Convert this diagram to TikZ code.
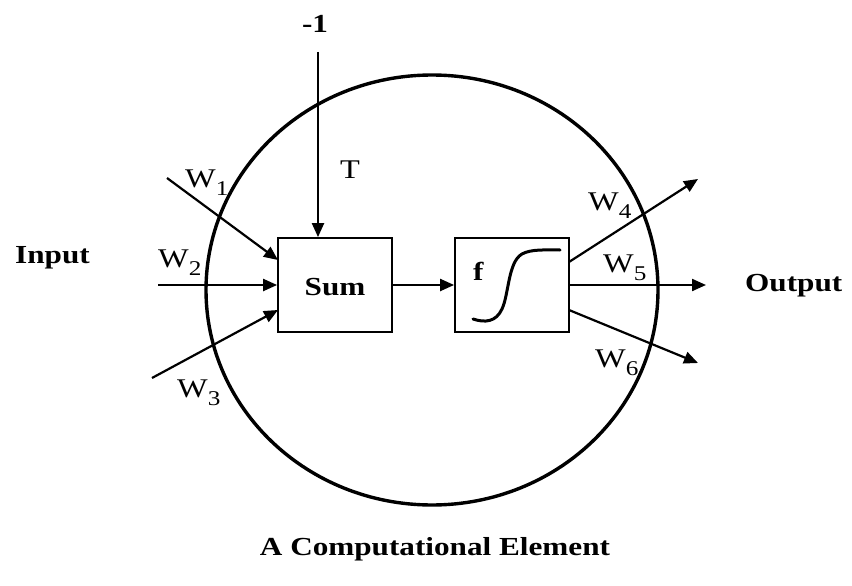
\documentclass[tikz,border=0pt]{standalone}
\usepackage{fontspec}
\setmainfont{Liberation Serif}[FakeStretch=1.2]
\usetikzlibrary{arrows.meta}
\newcommand\Wlab[1]{W\raisebox{-0.32em}{\fontsize{21}{24}\selectfont #1}}
\begin{document}
\begin{tikzpicture}[x=1pt,y=-1pt,
  txt/.style={inner sep=0pt,font=\fontsize{27}{30}\selectfont},
  btxt/.style={inner sep=0pt,font=\fontsize{26}{30}\selectfont\bfseries},
  blockbox/.style={draw,line width=1.8pt,minimum width=114pt,minimum height=94pt,inner sep=0pt},
  conn/.style={line width=2.2pt,-{Triangle[length=14pt,width=12pt]}},
  plain/.style={line width=2.2pt}]
\useasboundingbox (0,0) rectangle (852,586);
% big circle
\draw[line width=3.4pt] (432,290) ellipse [x radius=226pt, y radius=215pt];
% blocks
\node[blockbox] (sum) at (335,285) {};
\node[btxt,anchor=base] (sumlab) at (335,295) {Sum};
\node[blockbox] (fbox) at (512,285) {};
\node[btxt,anchor=base west] (flab) at (473,280) {f};
% sigmoid
\draw[line width=3pt,line cap=round]
  (473,319) .. controls (485,323) and (496,322) .. (502,309)
  .. controls (509,294) and (508,262) .. (522,254)
  .. controls (531,249) and (545,250) .. (560,250);
% bias input
\coordinate (m1) at (318,52);
\draw[conn] (m1) -- (m1 |- sum.north);
\node[btxt,anchor=base] (minus) at (315,33) {-1};
\node[txt,anchor=base west] (tlab) at (340,178) {T};
% inputs
\coordinate (i1) at (167,178);
\coordinate (i2) at (158,285);
\coordinate (i3) at (152,378);
\coordinate (s1) at (278,260);
\coordinate (s3) at (278,310);
\draw[conn] (i1) -- (s1);
\draw[conn] (i2) -- (sum.west);
\draw[conn] (i3) -- (s3);
\node[txt,anchor=base west] (w1) at (185,187) {\Wlab{1}};
\node[txt,anchor=base west] (w2) at (158,267) {\Wlab{2}};
\node[txt,anchor=base west] (w3) at (177,397) {\Wlab{3}};
% sum -> f
\draw[conn] (sum.east) -- (fbox.west);
% outputs
\coordinate (f4) at (569,262);
\coordinate (f6) at (569,310);
\coordinate (o4) at (698,179);
\coordinate (o5) at (706,285);
\coordinate (o6) at (698,363);
\draw[conn] (f4) -- (o4);
\draw[conn] (fbox.east) -- (o5);
\draw[conn] (f6) -- (o6);
\node[txt,anchor=base west] (w4) at (588,210) {\Wlab{4}};
\node[txt,anchor=base west] (w5) at (603,272) {\Wlab{5}};
\node[txt,anchor=base west] (w6) at (595,367) {\Wlab{6}};
% side labels
\node[btxt,anchor=base west] (inlab) at (15,263) {Input};
\node[btxt,anchor=base west] (outlab) at (745,291) {Output};
\node[btxt,anchor=base] (title) at (435,555) {A Computational Element};
\end{tikzpicture}
\end{document}
